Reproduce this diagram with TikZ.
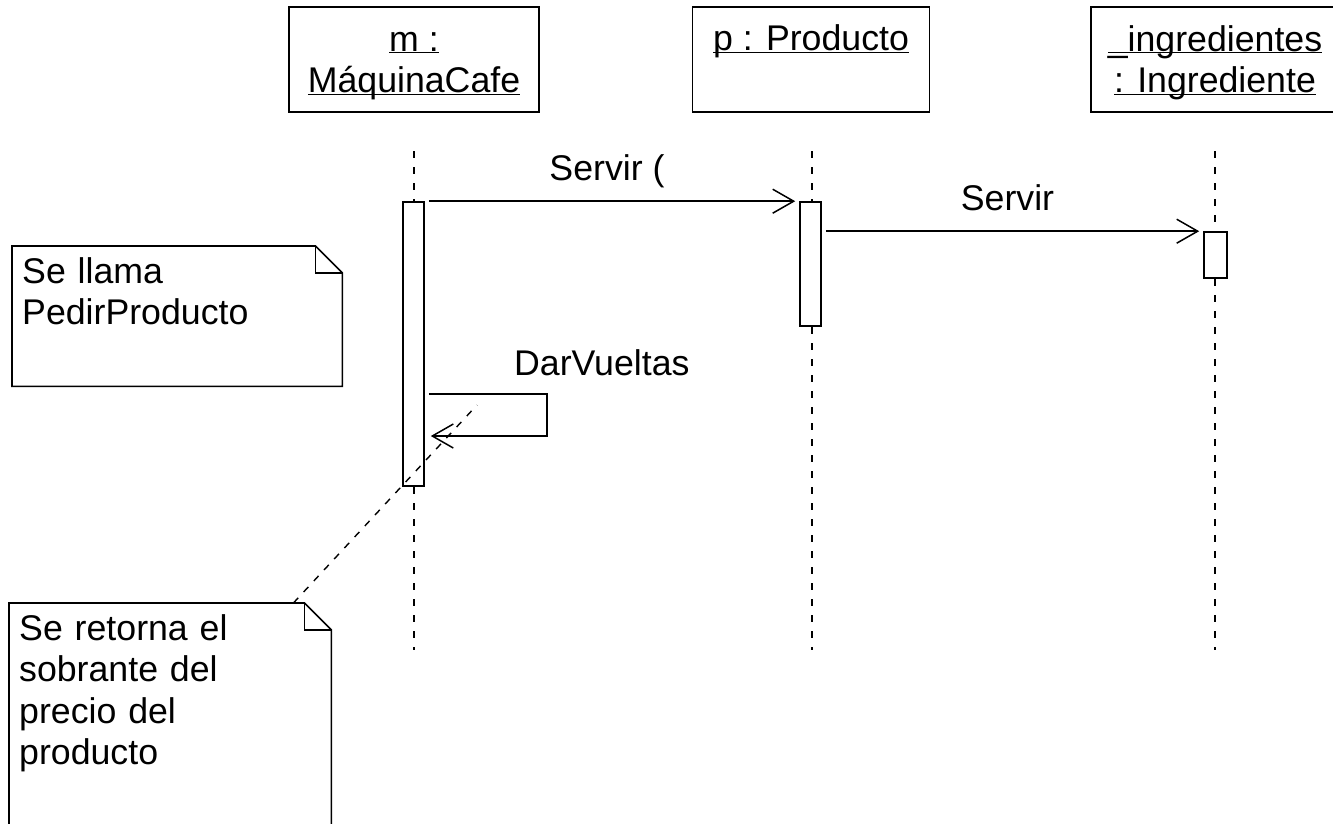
\documentclass[tikz,border=0pt]{standalone}
\usepackage{fontspec}
\setmainfont{Liberation Sans}
\usetikzlibrary{arrows.meta,positioning,calc}
\newcommand{\umlfont}{\fontsize{35.7}{41.5}\selectfont}
\newcommand{\objline}[1]{\underline{\smash{#1}}}
\newcommand{\dogear}[1]{%
  \draw[notefrm] (#1.north west) -- ([xshift=-27pt]#1.north east)
    -- ([yshift=-27pt]#1.north east) -- (#1.south east)
    -- (#1.south west) -- cycle;
  \draw[notefrm] ([xshift=-27pt]#1.north east) |- ([yshift=-27pt]#1.north east);}
\tikzset{
  objbox/.style={draw=black,fill=white,line width=1.7pt,align=center,
                 minimum height=105pt,inner sep=0pt,text height=70pt,
                 text depth=4pt,font=\umlfont},
  actbar/.style={draw=black,fill=white,line width=1.6pt,minimum width=21pt,
                 inner sep=0pt},
  lifeline/.style={line width=1.8pt,dash pattern=on 7pt off 9pt},
  msg/.style={-{Straight Barb[length=21pt,width=24pt,line width=1.5pt]},
              line width=1.5pt,shorten <=4pt,shorten >=4pt},
  lbl/.style={font=\umlfont,inner sep=0pt},
  msglbl/.style={lbl,anchor=base,yshift=21pt},
  notebox/.style={anchor=north west,align=left,font=\umlfont,
                  inner xsep=10pt,inner ysep=10pt,text height=27pt},
  notefrm/.style={line width=1.6pt},
  notelink/.style={line width=1.4pt,dash pattern=on 7pt off 8pt}
}
\begin{document}
\begin{tikzpicture}[x=1pt,y=-1pt]
    \path[use as bounding box,fill=white] (0,0) rectangle (1333,823);
    \foreach \x in {414,812,1215}
      \draw[lifeline] (\x,151) -- (\x,650);
    \node[objbox,minimum width=250pt] (mbox) at (414,59.5)
      {\objline{m :}\\\objline{MáquinaCafe}};
    \node[objbox,minimum width=237pt,text height=28pt,text depth=46pt] (pbox)
      at (811,59.5) {\objline{p : Producto}};
    \node[objbox,minimum width=248pt] (gbox) at (1215,59.5)
      {\objline{\_ingredientes}\\\objline{: Ingrediente}};
    \node[actbar,minimum height=284pt] (actm) at (413.5,344) {};
    \node[actbar,minimum height=124pt] (actp) at (810.5,264) {};
    \node[actbar,minimum width=23pt,minimum height=46pt] (actg) at (1215.5,255) {};
    \draw[msg] (actm.north east) -- node[msglbl,xshift=-5pt] {Servir (}
      (actp.north west);
    \draw[msg] (actp.east |- actg.north) -- node[msglbl,xshift=-5pt] {Servir}
      (actg.north west);
    \draw[msg] ([shift={(0,50)}]actm.east) -| ([shift={(122,92)}]actm.east)
      -- ([shift={(2,92)}]actm.east);
    \node[lbl,anchor=base west] (dvlbl) at (514,375) {DarVueltas};
    \node[notebox,minimum width=330pt,minimum height=140pt,text width=310pt,
          text depth=93pt] (callnote) at (12,246) {Se llama\\PedirProducto};
    \dogear{callnote}
    \node[notebox,minimum width=322pt,minimum height=232pt,text width=302pt,
          text depth=185pt] (retnote) at (9,603)
      {Se retorna el\\sobrante del\\precio del\\producto};
    \dogear{retnote}
    \coordinate (selfpt) at (477,405);
    \draw[notelink] ([xshift=-38pt]retnote.north east) -- (selfpt);
  \end{tikzpicture}
\end{document}
